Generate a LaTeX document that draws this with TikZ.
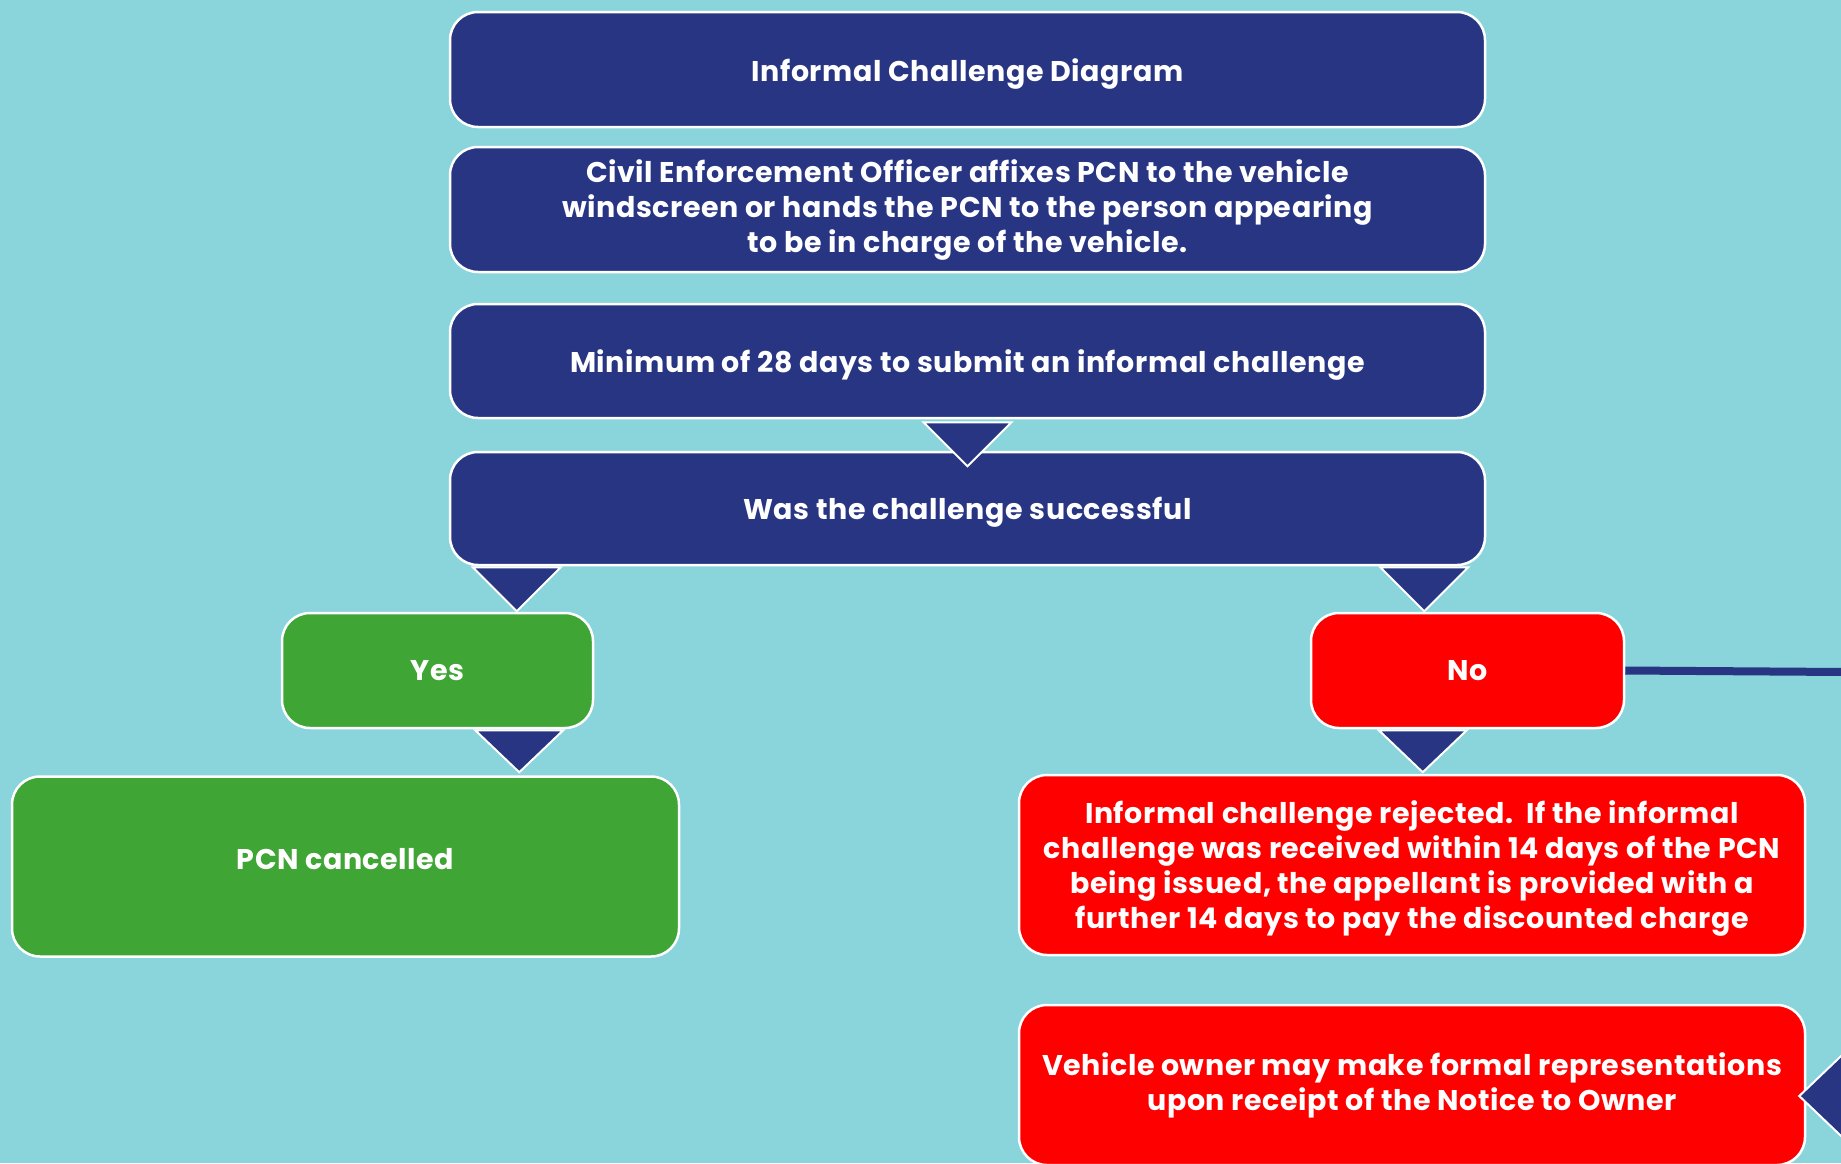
\documentclass[tikz,border=0pt]{standalone}
\usepackage{fontspec}
\setmainfont{Poppins}[LetterSpace=2]
\usetikzlibrary{calc}
\definecolor{bgblue}{HTML}{8AD4DB}
\definecolor{navy}{HTML}{283583}
\definecolor{boxgreen}{HTML}{3FA535}
\definecolor{boxred}{HTML}{FF0000}
\newcommand\vmove[2]{\raisebox{#1}[\height][\depth]{#2}}
\tikzset{
  box/.style={draw=white, line width=2.5pt, rounded corners=28pt, text=white,
    font=\fontsize{28.5}{35}\selectfont\bfseries, align=center, inner sep=0pt},
  navybox/.style={box, fill=navy, minimum width=1035pt},
  greenbox/.style={box, fill=boxgreen},
  redbox/.style={box, fill=boxred},
  tri/.style={fill=navy, draw=white, line width=2pt, line join=miter},
}
\begin{document}
\begin{tikzpicture}[x=1pt,y=-1pt]
\fill[bgblue] (0,0) rectangle (1841,1163);
\useasboundingbox (0,0) rectangle (1841,1163);

\node[navybox, minimum height=115pt] (title) at (967.5,69.5) {\vmove{-4pt}{Informal Challenge Diagram}};
\node[navybox, minimum height=125pt] (cee) at (967.5,209.5) {\vmove{-1pt}{\begin{tabular}{@{}c@{}}Civil Enforcement Officer affixes PCN to the vehicle\\windscreen or hands the PCN to the person appearing\\to be in charge of the vehicle.\end{tabular}}};
\node[navybox, minimum height=114pt] (min) at (967.5,361) {\vmove{-3.5pt}{Minimum of 28 days to submit an informal challenge}};
\node[navybox, minimum height=113pt] (was) at (967.5,508.5) {\vmove{-3.5pt}{Was the challenge successful}};
\node[greenbox, minimum width=311pt, minimum height=115pt] (yes) at (437.5,670.5) {Yes};
\node[redbox, minimum width=313pt, minimum height=115pt] (no) at (1467.5,670.5) {No};
\node[greenbox, minimum width=667pt, minimum height=180pt] (canc) at (345.5,866.5) {\vmove{7pt}{PCN cancelled}};
\node[redbox, minimum width=786pt, minimum height=180pt] (rej) at (1412,865) {\vmove{-3.5pt}{\begin{tabular}{@{}c@{}}Informal challenge rejected.\ \ If the informal\\challenge was received within 14 days of the PCN\\being issued, the appellant is provided with a\\further 14 days to pay the discounted charge\end{tabular}}};
\node[redbox, minimum width=786pt, minimum height=160pt] (own) at (1412,1085) {Vehicle owner may make formal representations\\upon receipt of the Notice to Owner};

% connector triangles
\draw[tri] ($(min.south)+(-44,3)$) -- ++(88,0) -- ++(-44,44) -- cycle;
\draw[tri] ($(was.south west)+(24,1)$) -- ++(88,0) -- ++(-44,44) -- cycle;
\draw[tri] ($(was.south east)+(-106,1)$) -- ++(88,0) -- ++(-44,44) -- cycle;
\draw[tri] ($(yes.south east)+(-119,1)$) -- ++(88,0) -- ++(-44,42) -- cycle;
\draw[tri] ($(no.south west)+(69,1)$) -- ++(88,0) -- ++(-44,42) -- cycle;

% line to the right edge
\coordinate (edge) at (1845,672);
\draw[navy, line width=8pt] (no.east) -- (edge);

% left-pointing triangle at the owner box
\draw[tri] ($(own.east)+(-7,11)$) -- ++(46,-44) -- ++(0,88) -- cycle;
\end{tikzpicture}
\end{document}
